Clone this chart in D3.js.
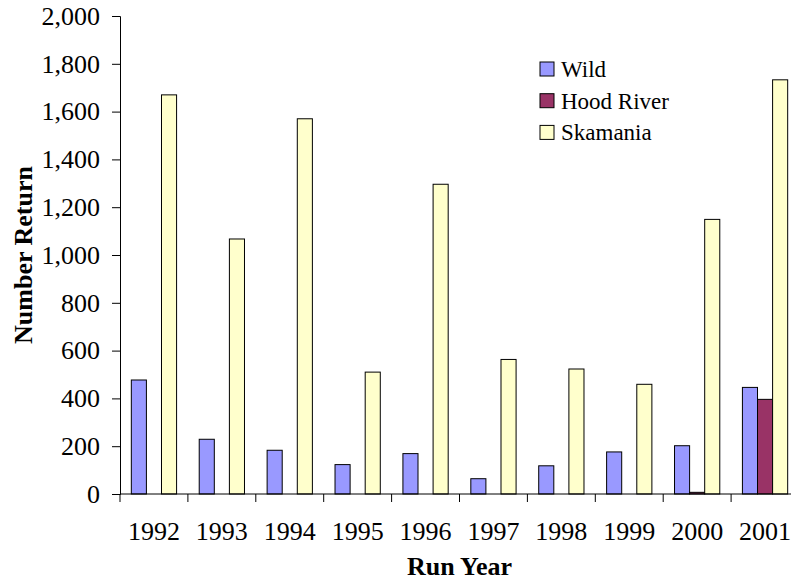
<!DOCTYPE html>
<html>
<head>
<meta charset="utf-8">
<script src="https://cdn.jsdelivr.net/npm/d3@7"></script>
<style>
  html, body { margin: 0; padding: 0; background: #fff; }
  svg { display: block; }
  svg text { font-family: "Liberation Serif", "DejaVu Serif", serif !important; fill: #000; }
</style>
</head>
<body>
<svg id="chart" width="791" height="581"></svg>
<script>
const years = ["1992","1993","1994","1995","1996","1997","1998","1999","2000","2001"];
const seriesNames = ["Wild", "Hood River", "Skamania"];
const wild      = [477, 229, 183, 123, 169, 64, 118, 176, 202, 446];
const hoodRiver = [0, 0, 0, 0, 0, 0, 0, 0, 7, 396];
const skamania  = [1670, 1067, 1570, 510, 1296, 563, 523, 459, 1149, 1733];
const yTicks = [0, 200, 400, 600, 800, 1000, 1200, 1400, 1600, 1800, 2000];
const colors = ["#9999FF", "#993366", "#FFFFCC"];

const seriesValues = [wild, hoodRiver, skamania];
const FONT = "'Liberation Serif', 'DejaVu Serif', serif";

const svg = d3.select("#chart").attr("font-family", FONT);
const pLeft = 120, pRight = 799, pTop = 16, pBottom = 494;

const x = d3.scaleBand().domain(years).range([pLeft, pRight]).paddingInner(0).paddingOuter(0);
const xInner = d3.scaleBand().domain(seriesNames).range([0, x.bandwidth()]).paddingInner(0).paddingOuter(0.75);
const y = d3.scaleLinear().domain([0, 2000]).range([pBottom, pTop]);

// bars
seriesNames.forEach((name, si) => {
  svg.append("g").selectAll("rect")
    .data(years.map((yr, i) => ({ yr, v: seriesValues[si][i] })).filter(d => d.v > 0))
    .join("rect")
    .attr("x", d => x(d.yr) + xInner(name))
    .attr("y", d => y(d.v))
    .attr("width", xInner.bandwidth())
    .attr("height", d => y(0) - y(d.v))
    .attr("fill", colors[si])
    .attr("stroke", "#000")
    .attr("stroke-width", 1);
});

// y axis
const yAxis = d3.axisLeft(y).tickValues(yTicks).tickSize(8).tickPadding(12)
  .tickFormat(d3.format(","));
const gy = svg.append("g").attr("transform", `translate(${pLeft},0)`).call(yAxis)
  .attr("font-family", FONT).attr("font-size", 26);
gy.selectAll("text").style("font-size", "26px").style("font-family", FONT);
gy.select(".domain").attr("stroke", "#000");
gy.selectAll(".tick line").attr("stroke", "#000");

// x axis
const gx = svg.append("g").attr("transform", `translate(0,${pBottom})`);
gx.append("line").attr("x1", pLeft).attr("x2", pRight).attr("y1", 0).attr("y2", 0).attr("stroke", "#000");
const boundaries = years.map(yr => x(yr)).concat([x(years[years.length - 1]) + x.bandwidth()]);
gx.selectAll("line.tk").data(boundaries).join("line").attr("class", "tk")
  .attr("x1", d => d).attr("x2", d => d).attr("y1", 0).attr("y2", 8).attr("stroke", "#000");
gx.selectAll("text").data(years).join("text")
  .attr("x", d => x(d) + x.bandwidth() / 2)
  .attr("y", 46)
  .attr("text-anchor", "middle")
  .style("font-size", "26px").style("font-family", FONT)
  .text(d => d);

// axis titles
svg.append("text")
  .attr("x", (pLeft + pRight) / 2).attr("y", 575)
  .attr("text-anchor", "middle")
  .style("font-size", "26px").style("font-weight", "bold").style("font-family", FONT)
  .text("Run Year");
svg.append("text")
  .attr("transform", `translate(32,${(pTop + pBottom) / 2}) rotate(-90)`)
  .attr("text-anchor", "middle")
  .style("font-size", "26px").style("font-weight", "bold").style("font-family", FONT)
  .text("Number Return");

// legend
const legend = svg.append("g").attr("transform", "translate(540,62)");
seriesNames.forEach((name, i) => {
  const g = legend.append("g").attr("transform", `translate(0,${i * 31.7})`);
  g.append("rect").attr("width", 14).attr("height", 14)
    .attr("fill", colors[i]).attr("stroke", "#000").attr("stroke-width", 1);
  g.append("text").attr("x", 21).attr("y", 15)
    .style("font-size", "23px").style("font-family", FONT).text(name);
});
</script>
</body>
</html>
